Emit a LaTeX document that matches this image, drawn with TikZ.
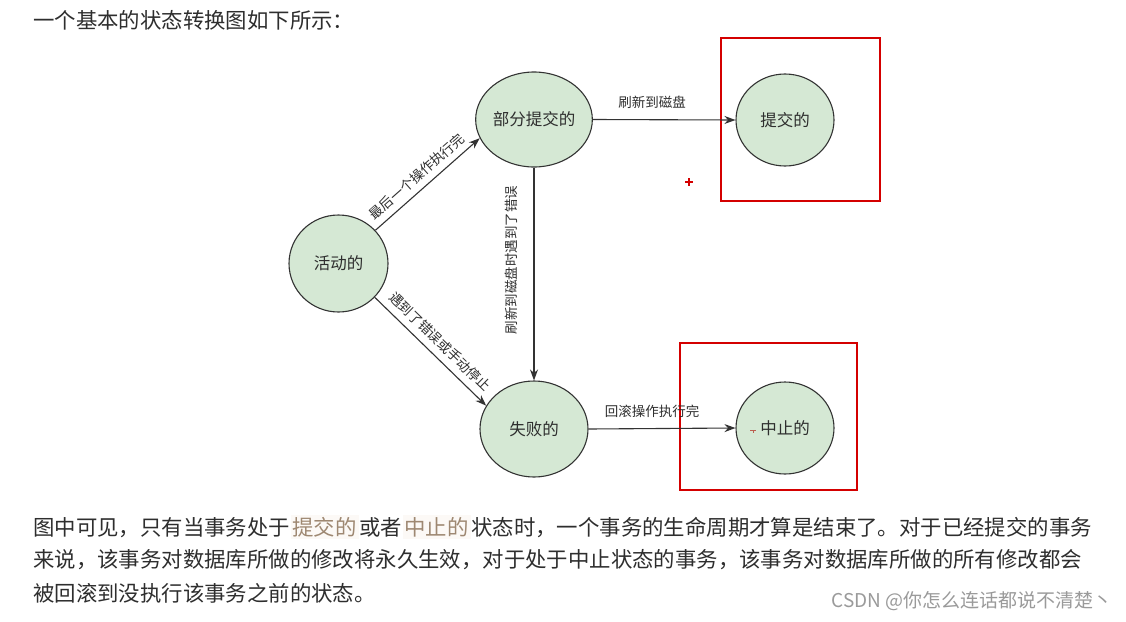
\documentclass[tikz,border=0pt]{standalone}
\usepackage{fontspec}
\setmainfont{Noto Sans CJK SC}
\usetikzlibrary{shapes.geometric,arrows.meta}
\definecolor{nodefill}{HTML}{D5E8D4}
\definecolor{nodeline}{HTML}{333333}
\definecolor{txt}{HTML}{2E2E2E}
\definecolor{redbox}{HTML}{D40000}
\definecolor{hltxt}{HTML}{9E8872}
\definecolor{hlbg}{HTML}{FCF9F6}
\definecolor{wm}{HTML}{9A9A9A}
\newcommand{\hlw}[1]{{\setlength\fboxsep{2pt}\colorbox{hlbg}{\color{hltxt}#1}}}
\newcommand{\gapw}{\hspace{0.5pt}}
\tikzset{
  state/.style={ellipse, draw=nodeline, fill=nodefill, line width=1.1pt, inner sep=0pt,
    text=txt, font=\fontsize{16.5}{18}\selectfont},
  conn/.style={draw=nodeline, line width=1.1pt, -{Stealth[length=11pt,width=8pt]}},
  elabel/.style={text=txt, font=\fontsize{13.5}{15}\selectfont, inner sep=1pt},
  frame/.style={draw=redbox, line width=1.4pt},
  para/.style={anchor=west, text=txt, inner sep=0pt, font=\fontsize{21.4}{24}\selectfont}
}
\begin{document}
\begin{tikzpicture}[x=1pt,y=-1pt]
\useasboundingbox[fill=white] (0,0) rectangle (1126,621);
% title
\node[para] (title) at (33,20) {一个基本的状态转换图如下所示：};
% red frames
\draw[frame] (721,38) rectangle (880,201);
\draw[frame] (680,343) rectangle (857,490);
% states
\node[state, minimum width=99pt, minimum height=97pt] (act) at (338.5,263.5) {活动的};
\node[state, minimum width=108pt, minimum height=95pt] (part) at (534,119.5) {部分提交的};
\node[state, minimum width=98pt, minimum height=92pt] (comm) at (785,120) {提交的};
\node[state, minimum width=108pt, minimum height=96pt] (fail) at (534,429) {失败的};
\node[state, minimum width=98pt, minimum height=92pt] (abort) at (785,428) {中止的};
% connectors
\draw[conn] (act.42) -- node[elabel, sloped, above=5pt, pos=0.48] {最后一个操作执行完} (part.199);
\draw[conn] (act.-43) -- node[elabel, sloped, above=6pt, pos=0.5] {遇到了错误或手动停止} (fail.154);
\draw[conn] (part.south) -- (fail.north);
\node[elabel, rotate=90] (vlab) at (511,260) {刷新到磁盘时遇到了错误};
\draw[conn] (part.east) -- (comm.west);
\node[elabel] (lab1) at (652,102) {刷新到磁盘};
\draw[conn] (fail.east) -- (abort.west);
\node[elabel] (lab2) at (652,411) {回滚操作执行完};
% red plus marker
\draw[redbox, line width=1.2pt] (685,182) -- (693,182) (689,178) -- (689,186);
% small cursor mark
\draw[hltxt!70!red, line width=0.6pt] (750,430.5) -- (756,430.5) (753,430.5) -- (753,433);
% paragraph
\node[para] (l1) at (33,527) {图中可见，只有当事务处于\gapw\hlw{提交的}\gapw 或者\gapw\hlw{中止的}\gapw 状态时，一个事务的生命周期才算是结束了。对于已经提交的事务};
\node[para] (l2) at (33,560) {来说，该事务对数据库所做的修改将永久生效，对于处于中止状态的事务，该事务对数据库所做的所有修改都会};
\node[para] (l3) at (33,593) {被回滚到没执行该事务之前的状态。};
\node[anchor=east, text=wm, inner sep=0pt, font=\fontsize{19}{21}\selectfont] (wmark) at (1113,601) {CSDN @你怎么连话都说不清楚丶};
\end{tikzpicture}
\end{document}
